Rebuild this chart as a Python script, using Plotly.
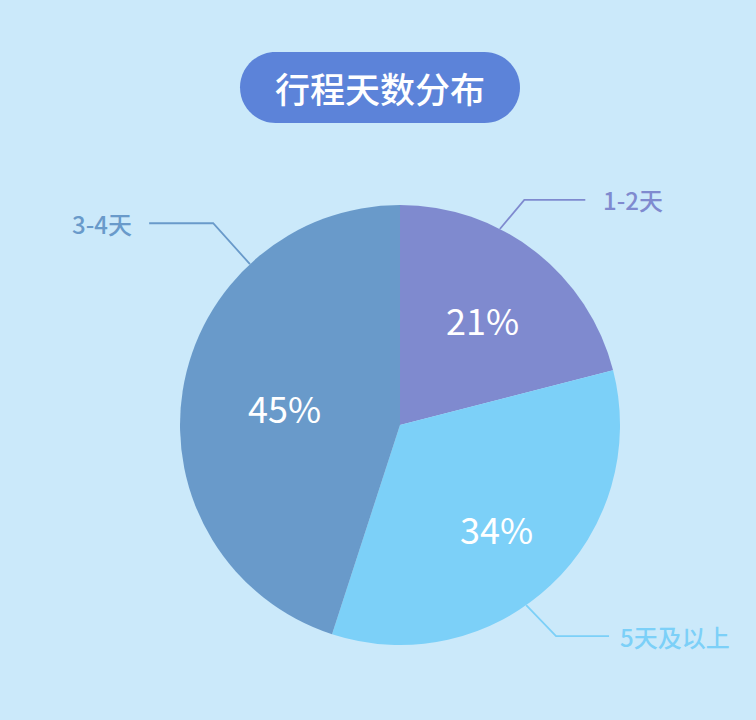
import math
import plotly.graph_objects as go

# 数据
labels = ['1-2天', '5天及以上', '3-4天']
values = [21, 34, 45]
colors = ['#7f8acf', '#7cd0f8', '#699aca']
title_text = '行程天数分布'

W, H = 756, 720
bg = '#cbe9fa'
font_family = 'Noto Sans CJK SC'

# 饼图几何 (像素)
cx, cy, R = 400, 425, 220

# 百分比文字离圆心的距离 (半径比例)
pct_radius = [0.61, 0.64, 0.53]

# 引导线: 起点角度, 第一段方向, 第一段长度, 水平段长度
lead_start = [27, 145, 317]
lead_dir = [40, 136, 318]
lead_len1 = [38, 43, 55]
lead_len2 = [61, 53, 64]
lead_gap = [16, 9, 15]


def px(x):
    return x / W


def py(y):
    return 1 - y / H


fig = go.Figure()
fig.add_trace(go.Pie(
    labels=labels,
    values=values,
    sort=False,
    direction='clockwise',
    rotation=0,
    marker=dict(colors=colors, line=dict(width=0)),
    textinfo='none',
    domain=dict(x=[px(cx - R), px(cx + R)], y=[py(cy + R), py(cy - R)]),
    hoverinfo='label+percent',
    showlegend=False,
))

shapes = []
annotations = []
total = sum(values)
cum = 0
for i, lab in enumerate(labels):
    # 百分比
    mid = math.radians((cum + values[i] / 2) / total * 360)
    cum += values[i]
    rr = pct_radius[i] * R
    annotations.append(dict(
        x=px(cx + rr * math.sin(mid)), y=py(cy - rr * math.cos(mid)),
        xref='paper', yref='paper', showarrow=False,
        text=f'{round(values[i] / total * 100)}%',
        xanchor='center', yanchor='middle',
        font=dict(family=font_family, size=36, color='white'),
    ))

    # 引导线和标签
    a = math.radians(lead_start[i])
    x0 = cx + R * math.sin(a)
    y0 = cy - R * math.cos(a)
    d = math.radians(lead_dir[i])
    x1 = x0 + lead_len1[i] * math.sin(d)
    y1 = y0 - lead_len1[i] * math.cos(d)
    side = 1 if math.sin(a) >= 0 else -1
    x2 = x1 + side * lead_len2[i]
    shapes.append(dict(
        type='path', xref='paper', yref='paper',
        path=f'M {px(x0)},{py(y0)} L {px(x1)},{py(y1)} L {px(x2)},{py(y1)}',
        line=dict(color=colors[i], width=1.8),
    ))
    annotations.append(dict(
        x=px(x2 + side * lead_gap[i]), y=py(y1), xref='paper', yref='paper',
        text=lab, showarrow=False,
        xanchor='left' if side > 0 else 'right', yanchor='middle',
        font=dict(family=font_family, size=24, color=colors[i], weight=500),
    ))

# 标题胶囊
tl, tr, tt, tb = 240, 520, 52, 123
r = (tb - tt) / 2
k = 0.5523 * r
pill = (
    f'M {px(tl + r)},{py(tt)} L {px(tr - r)},{py(tt)} '
    f'C {px(tr - r + k)},{py(tt)} {px(tr)},{py(tt + r - k)} {px(tr)},{py(tt + r)} '
    f'C {px(tr)},{py(tt + r + k)} {px(tr - r + k)},{py(tb)} {px(tr - r)},{py(tb)} '
    f'L {px(tl + r)},{py(tb)} '
    f'C {px(tl + r - k)},{py(tb)} {px(tl)},{py(tb - r + k)} {px(tl)},{py(tb - r)} '
    f'C {px(tl)},{py(tt + r - k)} {px(tl + r - k)},{py(tt)} {px(tl + r)},{py(tt)} Z'
)
shapes.append(dict(type='path', xref='paper', yref='paper', path=pill,
                   fillcolor='#5c83d9', line=dict(width=0), layer='below'))
annotations.append(dict(
    x=px((tl + tr) / 2), y=py((tt + tb) / 2), xref='paper', yref='paper',
    text=title_text, showarrow=False, xanchor='center', yanchor='middle',
    font=dict(family=font_family, size=35, color='white', weight=500),
))

fig.update_layout(
    width=W, height=H,
    margin=dict(l=0, r=0, t=0, b=0),
    paper_bgcolor=bg, plot_bgcolor=bg,
    shapes=shapes, annotations=annotations,
)

fig.write_html('out.html', config={'displayModeBar': False},
               post_script="document.body.style.margin='0';")
